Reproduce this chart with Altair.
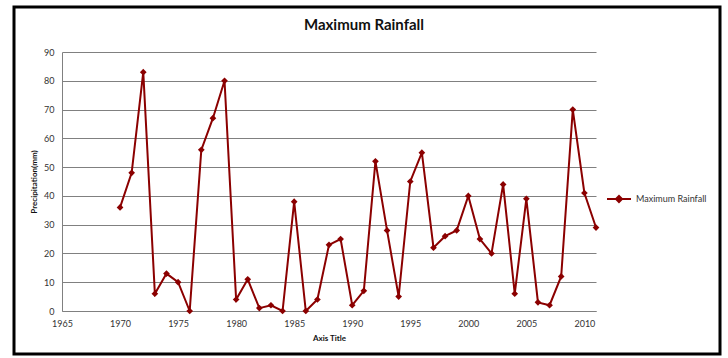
import altair as alt
import pandas as pd

years = list(range(1970, 2012))
rainfall = [36, 48, 83, 6, 13, 10, 0, 56, 67, 80,
            4, 11, 1, 2, 0, 38, 0, 4, 23, 25,
            2, 7, 52, 28, 5, 45, 55, 22, 26, 28,
            40, 25, 20, 44, 6, 39, 3, 2, 12, 70,
            41, 29]
series_name = "Maximum Rainfall"
x_ticks = list(range(1965, 2011, 5))
y_ticks = list(range(0, 91, 10))

df = pd.DataFrame({"Year": years, "Rain": rainfall, "Series": [series_name] * len(years)})

RED = "#8B0000"
FONT = "Lato"

x_enc = alt.X("Year:Q",
              scale=alt.Scale(domain=[1965, 2011], nice=False, zero=False),
              axis=alt.Axis(values=x_ticks, format="d", title="Axis Title",
                            grid=False, ticks=False, domain=True, domainColor="#808080",
                            labelFontSize=9, labelColor="#333333", labelPadding=8,
                            labelFlush=False,
                            titleFontSize=8, titleFontWeight="bold", titlePadding=6,
                            titleColor="#111111"))
y_enc = alt.Y("Rain:Q",
              scale=alt.Scale(domain=[0, 90], nice=False),
              axis=alt.Axis(values=y_ticks, title="Precipitation(mm)",
                            grid=True, gridColor="#808080", gridWidth=1.2,
                            ticks=False, domain=True, domainColor="#808080",
                            labelFontSize=9, labelColor="#333333", labelPadding=8,
                            titleFontSize=8, titleFontWeight="bold", titlePadding=5,
                            titleColor="#111111"))

line = alt.Chart(df).mark_line(color=RED, strokeWidth=2).encode(x=x_enc, y=y_enc)

points = alt.Chart(df).mark_point(shape="diamond", filled=True, size=45, opacity=1).encode(
    x=x_enc, y=y_enc,
    color=alt.Color("Series:N", scale=alt.Scale(range=[RED]),
                    legend=alt.Legend(title=None, orient="none", legendX=544, legendY=134,
                                      symbolType="M-1,0L1,0M-0.25,0L0,-0.25L0.25,0L0,0.25Z",
                                      symbolSize=576, symbolStrokeWidth=2,
                                      symbolStrokeColor=RED, symbolFillColor=RED,
                                      labelFontSize=9, labelColor="#333333",
                                      labelOffset=4)),
)

frame = alt.Chart(pd.DataFrame({"a": [0]})).mark_rect(
    filled=False, stroke="black", strokeWidth=3
).encode(x=alt.value(-48), x2=alt.value(658), y=alt.value(-45), y2=alt.value(302))

chart = alt.layer(line, points, frame).properties(
    width=534, height=259,
    title=alt.TitleParams(series_name, fontSize=15, fontWeight="bold", font=FONT,
                          anchor="middle", dx=35, offset=-27, color="#111111"),
    autosize=alt.AutoSizeParams(type="none"),
    padding={"left": 62, "top": 52, "right": 132, "bottom": 47},
).configure(font=FONT, background="white").configure_view(stroke=None)

chart.save("out.html", embed_options={"renderer": "svg", "actions": False})
